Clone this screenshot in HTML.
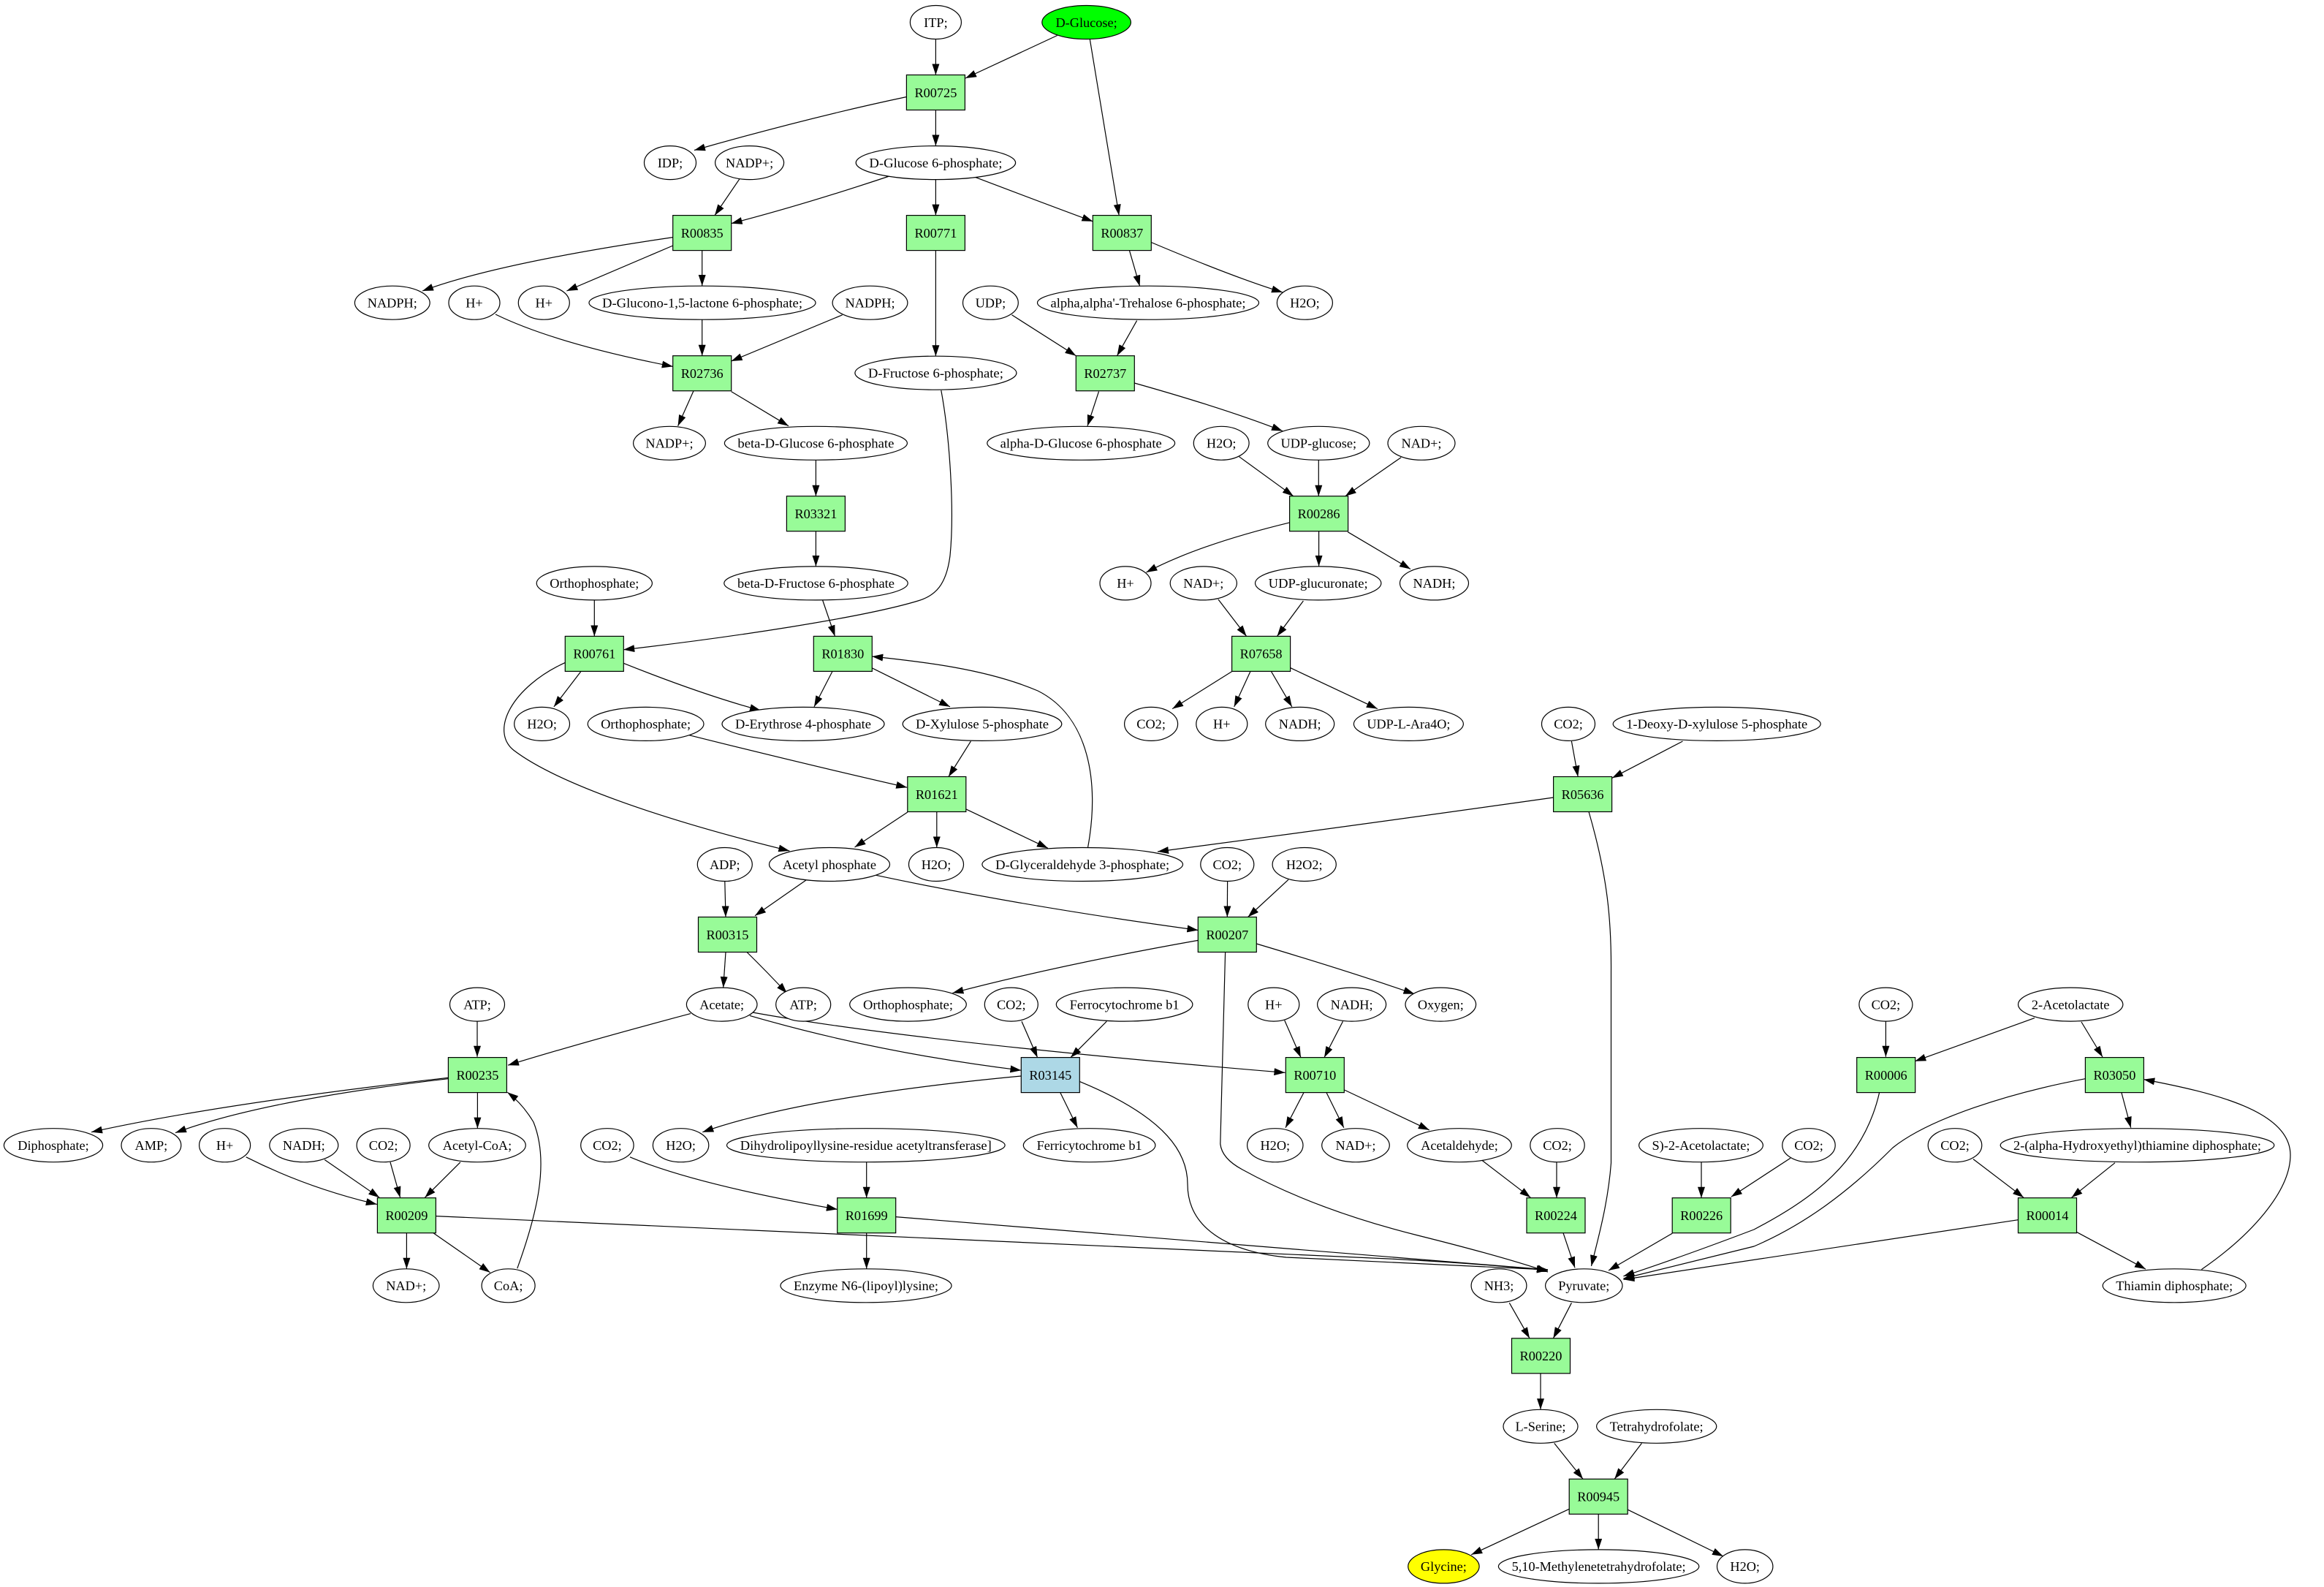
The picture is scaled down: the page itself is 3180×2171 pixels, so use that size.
<!DOCTYPE html>
<html><head><meta charset="utf-8"><style>
html,body{margin:0;padding:0;background:#fff;}
svg{display:block;}
text{font-family:"Liberation Serif","Times New Roman",serif;font-size:18.3px;text-anchor:middle;fill:#000;}
.e{fill:#fff;stroke:#000;stroke-width:1.2;}
.r{fill:#98fb98;stroke:#000;stroke-width:1.2;}
.p{fill:none;stroke:#000;stroke-width:1.2;marker-end:url(#a);}
</style></head><body>
<svg width="3180" height="2171" viewBox="0 0 3180 2171" xmlns="http://www.w3.org/2000/svg">
<defs><marker id="a" markerUnits="userSpaceOnUse" markerWidth="16" markerHeight="11" refX="15" refY="5" orient="auto"><path d="M0,0L15,5L0,10z" fill="#000"/></marker></defs>
<rect width="3180" height="2171" fill="#fff"/>
<g>
<path class="p" d="M1280.4,53.6 L1280.4,102.5"/>
<path class="p" d="M1446.7,48.5 L1321,107"/>
<path class="p" d="M1491.3,53.6 L1531.2,294.6"/>
<path class="p" d="M1240.5,132.5 Q1110,160 950,205.5"/>
<path class="p" d="M1280.4,150.5 L1280.4,199.5"/>
<path class="p" d="M1012,244.7 L978,294.6"/>
<path class="p" d="M1216.8,241 Q1100,280 1000.6,305.7"/>
<path class="p" d="M1280.4,245.7 L1280.4,294.6"/>
<path class="p" d="M1334.5,242.4 Q1420,275 1495.4,302.9"/>
<path class="p" d="M920.8,324.6 Q680,360 578,398"/>
<path class="p" d="M920.8,336 L775.4,398"/>
<path class="p" d="M960.7,342.6 L960.7,391"/>
<path class="p" d="M1545.4,342.6 L1559.6,391.5"/>
<path class="p" d="M1575.2,331.5 Q1690,380 1755,399.9"/>
<path class="p" d="M678,430 Q760,470 920.8,501.4"/>
<path class="p" d="M960.7,437.4 L960.7,486.7"/>
<path class="p" d="M1152.6,430.8 L1000.6,494"/>
<path class="p" d="M1384.5,430.8 L1472.4,486.7"/>
<path class="p" d="M1555.6,438.6 L1528.5,486.7"/>
<path class="p" d="M1280.4,342.6 L1280.4,487.2"/>
<path class="p" d="M949,534.7 L927.6,582.7"/>
<path class="p" d="M1000.6,535.6 L1079,582.7"/>
<path class="p" d="M1503.5,535.6 L1488,582.7"/>
<path class="p" d="M1552.2,524 Q1680,560 1755,589.6"/>
<path class="p" d="M1695.5,624.7 L1769.8,678.7"/>
<path class="p" d="M1804.3,629.3 L1804.3,678.7"/>
<path class="p" d="M1917.2,625.7 L1840.8,678.7"/>
<path class="p" d="M1116.4,629.3 L1116.4,678.7"/>
<path class="p" d="M1116.4,726.7 L1116.4,774.8"/>
<path class="p" d="M1287.8,534 C1300,600 1306,700 1300,760 C1295,800 1280,815 1256,822 C1180,845 1000,872 853.2,888.8"/>
<path class="p" d="M1765,714.8 Q1640,745 1568.4,783"/>
<path class="p" d="M1804.6,726.7 L1804.6,774.8"/>
<path class="p" d="M1844.2,727.7 L1930,778.5"/>
<path class="p" d="M813.3,821 L813.3,870.4"/>
<path class="p" d="M1125.6,821 L1142.5,870.4"/>
<path class="p" d="M1667,820 L1705.6,870.4"/>
<path class="p" d="M1783.4,822 L1747.5,870.4"/>
<path class="p" d="M795,918.4 L757.9,966.9"/>
<path class="p" d="M853.2,907.3 Q960,950 1041,972"/>
<path class="p" d="M1139,918.4 L1114,966.9"/>
<path class="p" d="M1193.2,913.8 L1300,966.9"/>
<path class="p" d="M1686,918.4 L1604.2,969.6"/>
<path class="p" d="M1711,918.4 L1688.7,966.9"/>
<path class="p" d="M1739.4,918.4 L1767.8,966.9"/>
<path class="p" d="M1765,913.3 L1884.8,969.6"/>
<path class="p" d="M773.4,906.4 C700,940 670,1000 703,1026.4 C760,1070 900,1120 1080.3,1164"/>
<path class="p" d="M943,1005.7 Q1100,1045 1241.2,1077.2"/>
<path class="p" d="M1328.4,1014 L1298,1062.5"/>
<path class="p" d="M1488.6,1159 C1505,1070 1490,980 1420,945 C1350,915 1260,905 1193.2,898"/>
<path class="p" d="M1241.9,1111 L1169.5,1159"/>
<path class="p" d="M1281.8,1110.5 L1281.8,1159.4"/>
<path class="p" d="M1321.6,1106.8 L1433.9,1160.3"/>
<path class="p" d="M2125.4,1091 Q1850,1130 1584,1165"/>
<path class="p" d="M2150.4,1014 L2159.2,1062.5"/>
<path class="p" d="M2302.5,1014 L2205.9,1064.3"/>
<path class="p" d="M2174,1110.5 C2200,1200 2205,1260 2204.5,1330 L2204.5,1591 C2200,1650 2185,1700 2177.5,1732"/>
<path class="p" d="M991.8,1205.6 L993,1254.5"/>
<path class="p" d="M1102.6,1204.2 L1033,1252.7"/>
<path class="p" d="M1198.6,1197.3 Q1400,1240 1639.4,1272.5"/>
<path class="p" d="M1679.6,1205.6 L1679.3,1254.5"/>
<path class="p" d="M1763,1203.3 L1707.6,1254.5"/>
<path class="p" d="M993,1302.5 L989.7,1351"/>
<path class="p" d="M1022,1302.5 Q1050,1330 1077,1359"/>
<path class="p" d="M1639.4,1286.4 Q1450,1320 1303.4,1358.4"/>
<path class="p" d="M1719.2,1291 Q1850,1330 1935.5,1359.8"/>
<path class="p" d="M1676.6,1302.5 L1669.8,1565 Q1672,1585 1700,1600 Q1800,1655 1940,1690 Q2060,1720 2118,1740"/>
<path class="p" d="M653,1397.2 L653,1445.7"/>
<path class="p" d="M945,1386.6 Q800,1425 695,1457.2"/>
<path class="p" d="M1026,1389.4 Q1200,1440 1397.4,1464.2"/>
<path class="p" d="M1030,1385 Q1250,1425 1758.4,1467.4"/>
<path class="p" d="M1398,1397.2 L1419.6,1446.6"/>
<path class="p" d="M1514.3,1397.2 L1465,1446.6"/>
<path class="p" d="M1757.7,1395.8 L1780,1446.6"/>
<path class="p" d="M1837.5,1397.2 L1812,1446.6"/>
<path class="p" d="M2580.4,1397.2 L2580.4,1445.7"/>
<path class="p" d="M2784,1392.6 L2620.3,1451.7"/>
<path class="p" d="M2848,1398 L2877,1446"/>
<path class="p" d="M613.2,1474.3 Q300,1510 125,1548.7"/>
<path class="p" d="M613.2,1475.7 Q360,1505 240,1549.6"/>
<path class="p" d="M653.4,1494.6 L653.4,1543.6"/>
<path class="p" d="M1397.4,1472 Q1100,1500 961.3,1548.7"/>
<path class="p" d="M1450.8,1494.6 L1474.4,1542.7"/>
<path class="p" d="M1477.1,1479.4 C1600,1530 1625,1580 1625,1620 C1625,1680 1680,1712 1760,1720 L2118,1737"/>
<path class="p" d="M1784,1494.6 L1759,1542.7"/>
<path class="p" d="M1815,1494.6 L1838.8,1542.7"/>
<path class="p" d="M1839.5,1491 L1955.8,1545.9"/>
<path class="p" d="M2571.6,1494.6 C2550,1590 2480,1640 2400,1682 Q2300,1720 2221.4,1745.8"/>
<path class="p" d="M2853.5,1475.7 C2750,1495 2640,1530 2590,1570 C2530,1630 2470,1675 2400,1705 Q2300,1730 2221.4,1749"/>
<path class="p" d="M2902.9,1494.6 L2915.7,1542.7"/>
<path class="p" d="M3012.4,1736.6 C3080,1690 3134,1630 3134,1580 C3134,1520 3030,1495 2933.3,1476.6"/>
<path class="p" d="M336.7,1582.8 Q420,1625 515.8,1647.5"/>
<path class="p" d="M444.2,1586.5 L519.2,1638.2"/>
<path class="p" d="M534,1589.8 L547.6,1638.2"/>
<path class="p" d="M630,1589.8 L581.4,1638.2"/>
<path class="p" d="M862,1582.8 Q950,1620 1145.9,1654.4"/>
<path class="p" d="M1185.7,1590 L1185.7,1638.7"/>
<path class="p" d="M2028,1587.4 L2094.3,1638.2"/>
<path class="p" d="M2130,1590 L2130,1638.7"/>
<path class="p" d="M2328,1589.8 L2328,1638.7"/>
<path class="p" d="M2450,1584.2 L2368.8,1637.3"/>
<path class="p" d="M2700,1585.6 L2769,1638.2"/>
<path class="p" d="M2894,1590.7 L2834.6,1638.2"/>
<path class="p" d="M556.4,1686.7 L556.4,1735.7"/>
<path class="p" d="M593,1686.7 L670.6,1740.7"/>
<path class="p" d="M707.8,1735.2 C735,1660 752,1590 730,1535 Q715,1510 694.3,1494.2"/>
<path class="p" d="M596.3,1663.6 L1900,1722 Q2020,1728 2118,1738"/>
<path class="p" d="M1225.6,1664.6 L2118,1737"/>
<path class="p" d="M2139,1686.7 L2155,1734.3"/>
<path class="p" d="M2288.3,1687.2 L2201,1738"/>
<path class="p" d="M2761.6,1668.7 L2221.4,1750.4"/>
<path class="p" d="M2841.3,1685.3 L2936,1736.1"/>
<path class="p" d="M1185.7,1686.7 L1185.7,1735.7"/>
<path class="p" d="M2065.3,1782.3 L2093,1830.8"/>
<path class="p" d="M2150.4,1782.3 L2125.4,1830.8"/>
<path class="p" d="M2108,1878.8 L2108,1928.2"/>
<path class="p" d="M2126.8,1974.4 L2166,2023.3"/>
<path class="p" d="M2246.4,1974.4 L2209.2,2023.3"/>
<path class="p" d="M2147,2064.4 L2013.2,2126.8"/>
<path class="p" d="M2187.2,2071.3 L2187.2,2119.8"/>
<path class="p" d="M2227.5,2065.3 L2358,2129"/>
</g>
<g>
<ellipse class="e" cx="1280.4" cy="30.5" rx="35" ry="23"/><text x="1280.4" y="36.8">ITP;</text>
<ellipse class="e" style="fill:#00ff00" cx="1486.6" cy="30.5" rx="60.8" ry="23"/><text x="1486.6" y="36.8">D-Glucose;</text>
<ellipse class="e" cx="917" cy="222.6" rx="35.5" ry="23"/><text x="917" y="228.9">IDP;</text>
<ellipse class="e" cx="1025.6" cy="222.6" rx="47" ry="23"/><text x="1025.6" y="228.9">NADP+;</text>
<ellipse class="e" cx="1280.4" cy="222.6" rx="109.2" ry="23"/><text x="1280.4" y="228.9" textLength="182" lengthAdjust="spacingAndGlyphs">D-Glucose 6-phosphate;</text>
<ellipse class="e" cx="536.8" cy="414.2" rx="51.4" ry="23"/><text x="536.8" y="420.5">NADPH;</text>
<ellipse class="e" cx="649" cy="414.2" rx="35" ry="23"/><text x="649" y="420.5">H+</text>
<ellipse class="e" cx="744.3" cy="414.2" rx="35" ry="23"/><text x="744.3" y="420.5">H+</text>
<ellipse class="e" cx="961" cy="414.2" rx="155" ry="23"/><text x="961" y="420.5" textLength="274" lengthAdjust="spacingAndGlyphs">D-Glucono-1,5-lactone 6-phosphate;</text>
<ellipse class="e" cx="1190.5" cy="414.2" rx="51.4" ry="23"/><text x="1190.5" y="420.5">NADPH;</text>
<ellipse class="e" cx="1355.4" cy="414.2" rx="37.9" ry="23"/><text x="1355.4" y="420.5">UDP;</text>
<ellipse class="e" cx="1571" cy="414.2" rx="151.5" ry="23"/><text x="1571" y="420.5" textLength="267" lengthAdjust="spacingAndGlyphs">alpha,alpha'-Trehalose 6-phosphate;</text>
<ellipse class="e" cx="1785.4" cy="414.2" rx="38" ry="23"/><text x="1785.4" y="420.5">H2O;</text>
<ellipse class="e" cx="1280.4" cy="510.2" rx="110.5" ry="23"/><text x="1280.4" y="516.5" textLength="185" lengthAdjust="spacingAndGlyphs">D-Fructose 6-phosphate;</text>
<ellipse class="e" cx="916" cy="606.3" rx="49.4" ry="23"/><text x="916" y="612.6">NADP+;</text>
<ellipse class="e" cx="1116.4" cy="606.3" rx="125" ry="23"/><text x="1116.4" y="612.6" textLength="214" lengthAdjust="spacingAndGlyphs">beta-D-Glucose 6-phosphate</text>
<ellipse class="e" cx="1479.2" cy="606.3" rx="128.4" ry="23"/><text x="1479.2" y="612.6" textLength="221" lengthAdjust="spacingAndGlyphs">alpha-D-Glucose 6-phosphate</text>
<ellipse class="e" cx="1671.2" cy="606.3" rx="37.9" ry="23"/><text x="1671.2" y="612.6">H2O;</text>
<ellipse class="e" cx="1804.3" cy="606.3" rx="69.6" ry="23"/><text x="1804.3" y="612.6">UDP-glucose;</text>
<ellipse class="e" cx="1945" cy="606.3" rx="46" ry="23"/><text x="1945" y="612.6">NAD+;</text>
<ellipse class="e" cx="813.3" cy="797.9" rx="79.1" ry="23"/><text x="813.3" y="804.2" textLength="122" lengthAdjust="spacingAndGlyphs">Orthophosphate;</text>
<ellipse class="e" cx="1116.5" cy="797.9" rx="125.7" ry="23"/><text x="1116.5" y="804.2" textLength="215" lengthAdjust="spacingAndGlyphs">beta-D-Fructose 6-phosphate</text>
<ellipse class="e" cx="1540" cy="797.9" rx="35" ry="23"/><text x="1540" y="804.2">H+</text>
<ellipse class="e" cx="1646.8" cy="797.9" rx="45.6" ry="23"/><text x="1646.8" y="804.2">NAD+;</text>
<ellipse class="e" cx="1803.7" cy="797.9" rx="86.2" ry="23"/><text x="1803.7" y="804.2" textLength="136" lengthAdjust="spacingAndGlyphs">UDP-glucuronate;</text>
<ellipse class="e" cx="1962.5" cy="797.9" rx="47" ry="23"/><text x="1962.5" y="804.2">NADH;</text>
<ellipse class="e" cx="741.6" cy="990.4" rx="37.9" ry="23"/><text x="741.6" y="996.7">H2O;</text>
<ellipse class="e" cx="883.6" cy="990.4" rx="79.4" ry="23"/><text x="883.6" y="996.7" textLength="123" lengthAdjust="spacingAndGlyphs">Orthophosphate;</text>
<ellipse class="e" cx="1099" cy="990.4" rx="111" ry="23"/><text x="1099" y="996.7" textLength="186" lengthAdjust="spacingAndGlyphs">D-Erythrose 4-phosphate</text>
<ellipse class="e" cx="1344" cy="990.4" rx="108.8" ry="23"/><text x="1344" y="996.7" textLength="182" lengthAdjust="spacingAndGlyphs">D-Xylulose 5-phosphate</text>
<ellipse class="e" cx="1575.1" cy="990.4" rx="36.5" ry="23"/><text x="1575.1" y="996.7">CO2;</text>
<ellipse class="e" cx="1671.8" cy="990.4" rx="35" ry="23"/><text x="1671.8" y="996.7">H+</text>
<ellipse class="e" cx="1778.7" cy="990.4" rx="47" ry="23"/><text x="1778.7" y="996.7">NADH;</text>
<ellipse class="e" cx="1927.4" cy="990.4" rx="75" ry="23"/><text x="1927.4" y="996.7" textLength="114" lengthAdjust="spacingAndGlyphs">UDP-L-Ara4O;</text>
<ellipse class="e" cx="2146" cy="990.4" rx="36.5" ry="23"/><text x="2146" y="996.7">CO2;</text>
<ellipse class="e" cx="2349.2" cy="990.4" rx="142" ry="23"/><text x="2349.2" y="996.7" textLength="248" lengthAdjust="spacingAndGlyphs">1-Deoxy-D-xylulose 5-phosphate</text>
<ellipse class="e" cx="991.8" cy="1182.5" rx="37.5" ry="23"/><text x="991.8" y="1188.8">ADP;</text>
<ellipse class="e" cx="1135" cy="1182.5" rx="82.5" ry="23"/><text x="1135" y="1188.8" textLength="128" lengthAdjust="spacingAndGlyphs">Acetyl phosphate</text>
<ellipse class="e" cx="1281" cy="1182.5" rx="37.5" ry="23"/><text x="1281" y="1188.8">H2O;</text>
<ellipse class="e" cx="1481.2" cy="1182.5" rx="137.3" ry="23"/><text x="1481.2" y="1188.8" textLength="238" lengthAdjust="spacingAndGlyphs">D-Glyceraldehyde 3-phosphate;</text>
<ellipse class="e" cx="1679.3" cy="1182.5" rx="36.5" ry="23"/><text x="1679.3" y="1188.8">CO2;</text>
<ellipse class="e" cx="1784.7" cy="1182.5" rx="43.6" ry="23"/><text x="1784.7" y="1188.8">H2O2;</text>
<ellipse class="e" cx="653" cy="1374.1" rx="37.5" ry="23"/><text x="653" y="1380.4">ATP;</text>
<ellipse class="e" cx="987.7" cy="1374.1" rx="48.3" ry="23"/><text x="987.7" y="1380.4">Acetate;</text>
<ellipse class="e" cx="1099.2" cy="1374.1" rx="37.5" ry="23"/><text x="1099.2" y="1380.4">ATP;</text>
<ellipse class="e" cx="1242.5" cy="1374.1" rx="79.8" ry="23"/><text x="1242.5" y="1380.4" textLength="123" lengthAdjust="spacingAndGlyphs">Orthophosphate;</text>
<ellipse class="e" cx="1383.8" cy="1374.1" rx="36.5" ry="23"/><text x="1383.8" y="1380.4">CO2;</text>
<ellipse class="e" cx="1538.6" cy="1374.1" rx="93.3" ry="23"/><text x="1538.6" y="1380.4" textLength="150" lengthAdjust="spacingAndGlyphs">Ferrocytochrome b1</text>
<ellipse class="e" cx="1742.8" cy="1374.1" rx="35" ry="23"/><text x="1742.8" y="1380.4">H+</text>
<ellipse class="e" cx="1849.6" cy="1374.1" rx="47" ry="23"/><text x="1849.6" y="1380.4">NADH;</text>
<ellipse class="e" cx="1971.3" cy="1374.1" rx="48.3" ry="23"/><text x="1971.3" y="1380.4">Oxygen;</text>
<ellipse class="e" cx="2580.4" cy="1374.1" rx="36.5" ry="23"/><text x="2580.4" y="1380.4">CO2;</text>
<ellipse class="e" cx="2833.2" cy="1374.1" rx="71.7" ry="23"/><text x="2833.2" y="1380.4">2-Acetolactate</text>
<ellipse class="e" cx="73" cy="1566.7" rx="67.6" ry="23"/><text x="73" y="1573">Diphosphate;</text>
<ellipse class="e" cx="206.9" cy="1566.7" rx="40.9" ry="23"/><text x="206.9" y="1573">AMP;</text>
<ellipse class="e" cx="307.6" cy="1566.7" rx="35" ry="23"/><text x="307.6" y="1573">H+</text>
<ellipse class="e" cx="415.8" cy="1566.7" rx="47" ry="23"/><text x="415.8" y="1573">NADH;</text>
<ellipse class="e" cx="524.6" cy="1566.7" rx="36.5" ry="23"/><text x="524.6" y="1573">CO2;</text>
<ellipse class="e" cx="653" cy="1566.7" rx="66.3" ry="23"/><text x="653" y="1573">Acetyl-CoA;</text>
<ellipse class="e" cx="830.9" cy="1566.7" rx="36.2" ry="23"/><text x="830.9" y="1573">CO2;</text>
<ellipse class="e" cx="931.6" cy="1566.7" rx="38.2" ry="23"/><text x="931.6" y="1573">H2O;</text>
<ellipse class="e" cx="1184.8" cy="1566.7" rx="190.3" ry="23"/><text x="1184.8" y="1573" textLength="344" lengthAdjust="spacingAndGlyphs">Dihydrolipoyllysine-residue acetyltransferase]</text>
<ellipse class="e" cx="1490.6" cy="1566.7" rx="90.3" ry="23"/><text x="1490.6" y="1573" textLength="144" lengthAdjust="spacingAndGlyphs">Ferricytochrome b1</text>
<ellipse class="e" cx="1744.8" cy="1566.7" rx="38.2" ry="23"/><text x="1744.8" y="1573">H2O;</text>
<ellipse class="e" cx="1855" cy="1566.7" rx="46.3" ry="23"/><text x="1855" y="1573">NAD+;</text>
<ellipse class="e" cx="1997" cy="1566.7" rx="71.3" ry="23"/><text x="1997" y="1573">Acetaldehyde;</text>
<ellipse class="e" cx="2131" cy="1566.7" rx="37.2" ry="23"/><text x="2131" y="1573">CO2;</text>
<ellipse class="e" cx="2327.5" cy="1566.7" rx="84.9" ry="23"/><text x="2327.5" y="1573" textLength="134" lengthAdjust="spacingAndGlyphs">S)-2-Acetolactate;</text>
<ellipse class="e" cx="2475" cy="1566.7" rx="36.2" ry="23"/><text x="2475" y="1573">CO2;</text>
<ellipse class="e" cx="2675" cy="1566.7" rx="36.8" ry="23"/><text x="2675" y="1573">CO2;</text>
<ellipse class="e" cx="2924.5" cy="1566.7" rx="187.3" ry="23"/><text x="2924.5" y="1573" textLength="339" lengthAdjust="spacingAndGlyphs">2-(alpha-Hydroxyethyl)thiamine diphosphate;</text>
<ellipse class="e" cx="555.7" cy="1758.8" rx="45.3" ry="23"/><text x="555.7" y="1765.1">NAD+;</text>
<ellipse class="e" cx="695.6" cy="1758.8" rx="36.5" ry="23"/><text x="695.6" y="1765.1">CoA;</text>
<ellipse class="e" cx="1185" cy="1758.8" rx="117" ry="23"/><text x="1185" y="1765.1" textLength="198" lengthAdjust="spacingAndGlyphs">Enzyme N6-(lipoyl)lysine;</text>
<ellipse class="e" cx="2051" cy="1758.8" rx="37.9" ry="23"/><text x="2051" y="1765.1">NH3;</text>
<ellipse class="e" cx="2167.3" cy="1758.8" rx="52.7" ry="23"/><text x="2167.3" y="1765.1">Pyruvate;</text>
<ellipse class="e" cx="2975.2" cy="1758.8" rx="98" ry="23"/><text x="2975.2" y="1765.1" textLength="160" lengthAdjust="spacingAndGlyphs">Thiamin diphosphate;</text>
<ellipse class="e" cx="2108" cy="1951.3" rx="51" ry="23"/><text x="2108" y="1957.6">L-Serine;</text>
<ellipse class="e" cx="2266.7" cy="1951.3" rx="82.1" ry="23"/><text x="2266.7" y="1957.6" textLength="128" lengthAdjust="spacingAndGlyphs">Tetrahydrofolate;</text>
<ellipse class="e" style="fill:#ffff00" cx="1975.4" cy="2142.9" rx="48.7" ry="23"/><text x="1975.4" y="2149.2">Glycine;</text>
<ellipse class="e" cx="2187.6" cy="2142.9" rx="137.2" ry="23"/><text x="2187.6" y="2149.2" textLength="238" lengthAdjust="spacingAndGlyphs">5,10-Methylenetetrahydrofolate;</text>
<ellipse class="e" cx="2387.7" cy="2142.9" rx="38.2" ry="23"/><text x="2387.7" y="2149.2">H2O;</text>
</g>
<g>
<rect class="r" x="1240.4" y="102.5" width="80" height="48"/><text x="1280.4" y="132.8">R00725</text>
<rect class="r" x="920.7" y="294.6" width="80" height="48"/><text x="960.7" y="324.9">R00835</text>
<rect class="r" x="1240.4" y="294.6" width="80" height="48"/><text x="1280.4" y="324.9">R00771</text>
<rect class="r" x="1495.3" y="294.6" width="80" height="48"/><text x="1535.3" y="324.9">R00837</text>
<rect class="r" x="920.7" y="486.7" width="80" height="48"/><text x="960.7" y="517">R02736</text>
<rect class="r" x="1472.3" y="486.7" width="80" height="48"/><text x="1512.3" y="517">R02737</text>
<rect class="r" x="1076.4" y="678.7" width="80" height="48"/><text x="1116.4" y="709">R03321</text>
<rect class="r" x="1764.6" y="678.7" width="80" height="48"/><text x="1804.6" y="709">R00286</text>
<rect class="r" x="773.3" y="870.4" width="80" height="48"/><text x="813.3" y="900.7">R00761</text>
<rect class="r" x="1113.3" y="870.4" width="80" height="48"/><text x="1153.3" y="900.7">R01830</text>
<rect class="r" x="1685.6" y="870.4" width="80" height="48"/><text x="1725.6" y="900.7">R07658</text>
<rect class="r" x="1241.8" y="1062.5" width="80" height="48"/><text x="1281.8" y="1092.8">R01621</text>
<rect class="r" x="2125.6" y="1062.5" width="80" height="48"/><text x="2165.6" y="1092.8">R05636</text>
<rect class="r" x="955.5" y="1254.5" width="80" height="48"/><text x="995.5" y="1284.8">R00315</text>
<rect class="r" x="1639.3" y="1254.5" width="80" height="48"/><text x="1679.3" y="1284.8">R00207</text>
<rect class="r" x="613.4" y="1446.6" width="80" height="48"/><text x="653.4" y="1476.9">R00235</text>
<rect class="r" style="fill:#add8e6" x="1397.3" y="1446.6" width="80" height="48"/><text x="1437.3" y="1476.9">R03145</text>
<rect class="r" x="1759.3" y="1446.6" width="80" height="48"/><text x="1799.3" y="1476.9">R00710</text>
<rect class="r" x="2540.7" y="1446.6" width="80" height="48"/><text x="2580.7" y="1476.9">R00006</text>
<rect class="r" x="2853.4" y="1446.6" width="80" height="48"/><text x="2893.4" y="1476.9">R03050</text>
<rect class="r" x="516.4" y="1638.7" width="80" height="48"/><text x="556.4" y="1669">R00209</text>
<rect class="r" x="1145.7" y="1638.7" width="80" height="48"/><text x="1185.7" y="1669">R01699</text>
<rect class="r" x="2089" y="1638.7" width="80" height="48"/><text x="2129" y="1669">R00224</text>
<rect class="r" x="2288.2" y="1638.7" width="80" height="48"/><text x="2328.2" y="1669">R00226</text>
<rect class="r" x="2761.5" y="1638.7" width="80" height="48"/><text x="2801.5" y="1669">R00014</text>
<rect class="r" x="2068.5" y="1830.8" width="80" height="48"/><text x="2108.5" y="1861.1">R00220</text>
<rect class="r" x="2147.2" y="2023.3" width="80" height="48"/><text x="2187.2" y="2053.6">R00945</text>
</g>
</svg>
</body></html>
